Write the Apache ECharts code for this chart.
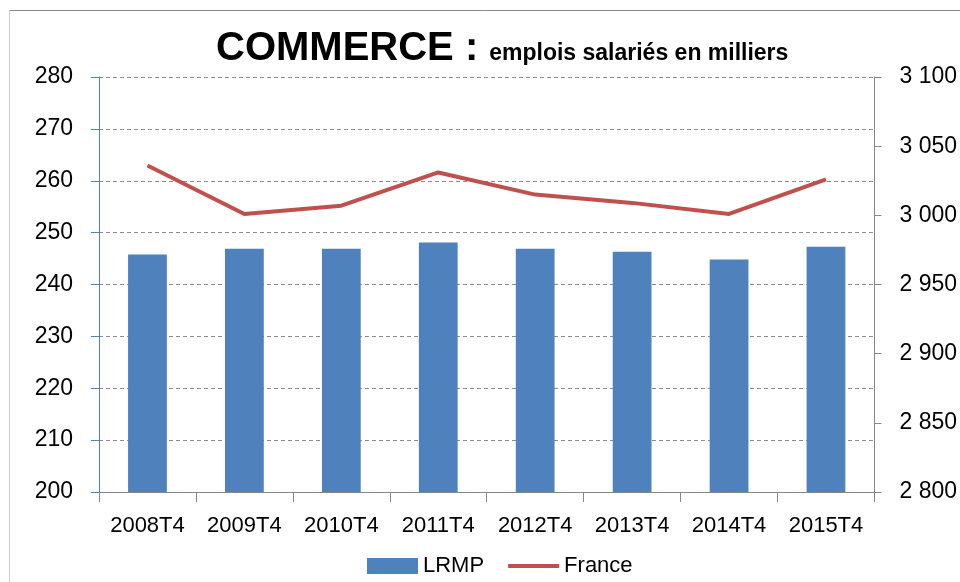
<!DOCTYPE html>
<html>
<head>
<meta charset="utf-8">
<script src="https://cdn.jsdelivr.net/npm/echarts@6/dist/echarts.min.js"></script>
<style>
  html, body { margin: 0; padding: 0; background: #fff; }
  #chart { width: 960px; height: 582px; }
</style>
</head>
<body>
<div id="chart"></div>
<script>
const categories = ['2008T4', '2009T4', '2010T4', '2011T4', '2012T4', '2013T4', '2014T4', '2015T4'];
const lrmp = [245.8, 246.9, 246.9, 248.1, 246.9, 246.3, 244.8, 247.3];
const france = [3036, 3001, 3007, 3031, 3015, 3009, 3001, 3026];

const FONT = '"Liberation Sans", Arial, sans-serif';
const chart = echarts.init(document.getElementById('chart'));

// séparateur de milliers avec espace
const fmtSpace = v => String(v).replace(/\B(?=(\d{3})+(?!\d))/g, ' ');

const option = {
  animation: false,
  backgroundColor: '#fff',
  textStyle: { fontFamily: FONT },
  graphic: [
    { type: 'line', shape: { x1: 9, y1: 10.5, x2: 960, y2: 10.5 }, style: { stroke: '#8a8a8a', lineWidth: 1 } },
    { type: 'line', shape: { x1: 9.5, y1: 10, x2: 9.5, y2: 582 }, style: { stroke: '#cfcfcf', lineWidth: 1 } }
  ],
  title: {
    left: 211,
    top: 22,
    text: '{a|COMMERCE :} {b|emplois salariés en milliers}',
    textStyle: {
      rich: {
        a: { fontFamily: FONT, fontSize: 40, fontWeight: 'bold', color: '#000', lineHeight: 44 },
        b: { fontFamily: FONT, fontSize: 23, fontWeight: 'bold', color: '#000', padding: [10, 0, 0, 6] }
      }
    }
  },
  legend: {
    left: 362,
    top: 550,
    itemWidth: 51,
    itemHeight: 16,
    itemGap: 22,
    textStyle: { fontFamily: FONT, fontSize: 22, color: '#000' },
    data: [
      { name: 'LRMP', icon: 'rect' },
      { name: 'France', itemStyle: { opacity: 0 }, lineStyle: { width: 4, color: '#C0504D' } }
    ]
  },
  grid: { left: 99, right: 83, top: 77, bottom: 90 },
  xAxis: {
    type: 'category',
    data: categories,
    axisLine: { lineStyle: { color: '#868686', width: 1 } },
    axisTick: { show: true, interval: 0, length: 10, lineStyle: { color: '#868686' } },
    axisLabel: { interval: 0, color: '#000', fontSize: 22, margin: 23, fontFamily: FONT }
  },
  yAxis: [
    {
      type: 'value',
      min: 200,
      max: 280,
      interval: 10,
      axisLine: { show: true, lineStyle: { color: '#4F81BD' } },
      axisTick: { show: true, length: 8, lineStyle: { color: '#4F81BD' } },
      axisLabel: { color: '#000', fontSize: 23, margin: 26, fontFamily: FONT },
      splitLine: { show: true, lineStyle: { color: '#8c8c8c', type: [4, 3], width: 1 } }
    },
    {
      type: 'value',
      min: 2800,
      max: 3100,
      interval: 50,
      position: 'right',
      axisLine: { show: true, lineStyle: { color: '#868686' } },
      axisTick: { show: true, length: 7, lineStyle: { color: '#868686' } },
      axisLabel: { color: '#000', fontSize: 23, margin: 25, fontFamily: FONT, formatter: fmtSpace },
      splitLine: { show: false }
    }
  ],
  series: [
    {
      name: 'LRMP',
      type: 'bar',
      data: lrmp,
      barWidth: '40%',
      itemStyle: { color: '#4F81BD' }
    },
    {
      name: 'France',
      type: 'line',
      yAxisIndex: 1,
      data: france,
      symbol: 'none',
      smooth: false,
      lineStyle: { color: '#C0504D', width: 4 },
      itemStyle: { color: '#C0504D' },
      z: 5
    }
  ]
};

chart.setOption(option);
</script>
</body>
</html>
